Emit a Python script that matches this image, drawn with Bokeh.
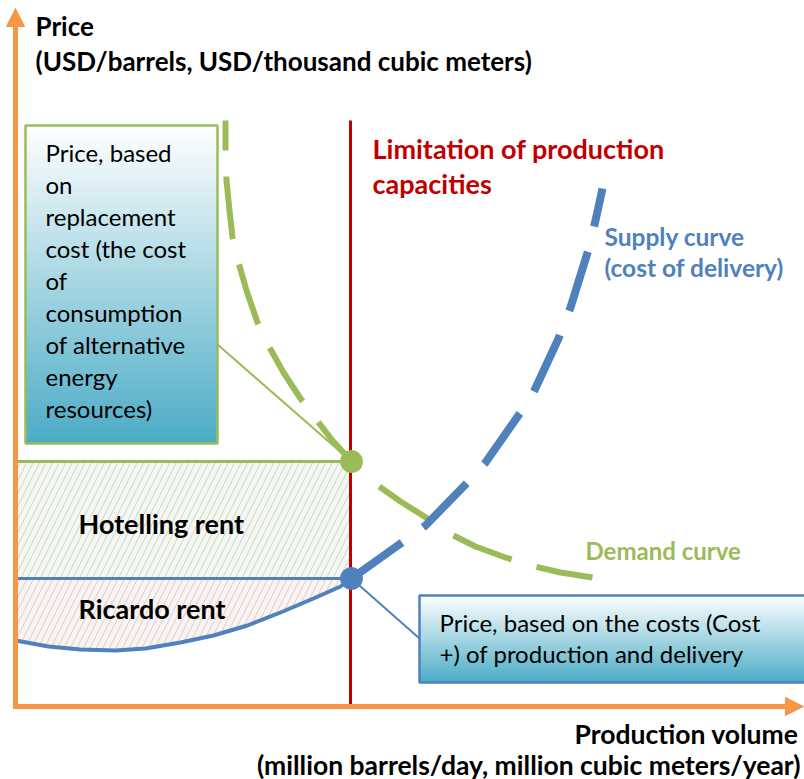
from bokeh.plotting import figure
from bokeh.models import Range1d, Arrow, NormalHead
from bokeh.core.properties import value
from bokeh.embed import file_html
from bokeh.resources import INLINE

# ---- data (volume, price in chart units) ----
supply_volume = [0, 33, 65, 100, 130, 165, 198, 232, 265, 298, 325, 336, 388, 410, 452, 470, 505, 518, 543, 555, 573, 580, 587]
supply_price = [66, 60, 57, 56, 58, 64, 71, 81, 94, 108, 120, 128, 165, 181, 224, 244, 294, 314, 368, 399, 457, 486, 518]

demand_volume = [210, 210, 211, 214, 217, 223, 231, 242, 253, 268, 285, 300, 317, 336, 358, 385, 412, 432, 460, 490, 515, 545, 577]
demand_price = [586, 556, 526, 496, 469, 444, 416, 384, 361, 334, 308, 288, 266, 245, 224, 205, 188, 174, 160, 149, 141, 134, 129]

capacity_volume = 336
capacity_top = 586
replacement_price = 245
cost_price = 128

ORANGE = "#F79646"
GREEN = "#9BBB59"
BLUE = "#4F81BD"
RED = "#C00000"
FONT = value("Lato")

p = figure(width=804, height=779, x_range=Range1d(-15, 789), y_range=Range1d(-73, 706),
           output_backend="svg", toolbar_location=None, min_border=0,
           x_axis_location=None, y_axis_location=None)
p.grid.grid_line_color = None
p.outline_line_color = None
p.background_fill_color = "white"
p.border_fill_color = "white"

# split supply
k = supply_volume.index(capacity_volume)
sv_solid, sp_solid = supply_volume[:k + 1], supply_price[:k + 1]
sv_dash, sp_dash = supply_volume[k:], supply_price[k:]

# rents
p.quad(left=[0], right=[capacity_volume], bottom=[cost_price], top=[replacement_price],
       fill_color="#F3F8F0", line_color=None, hatch_pattern="/", hatch_scale=13,
       hatch_color="#B0B0B0", hatch_weight=1, hatch_alpha=0.55)
p.varea(x=sv_solid, y1=sp_solid, y2=[cost_price] * len(sv_solid),
        fill_color="#FBF3F1", hatch_pattern="/", hatch_scale=13,
        hatch_color="#B0B0B0", hatch_weight=1, hatch_alpha=0.55)


def lerp(c1, c2, t):
    a = [int(c1[i:i + 2], 16) for i in (1, 3, 5)]
    b = [int(c2[i:i + 2], 16) for i in (1, 3, 5)]
    return "#%02x%02x%02x" % tuple(round(a[j] + (b[j] - a[j]) * t) for j in range(3))


def gradient_box(x0, x1, y_bottom, y_top, border, n=45):
    h = (y_top - y_bottom) / n
    tops, bots, cols = [], [], []
    for i in range(n):
        t = (i + 0.5) / n
        tops.append(y_top - i * h)
        bots.append(max(y_bottom, y_top - (i + 1) * h - 1.5))
        cols.append(lerp("#FFFFFF", "#4BACC6", t))
    p.quad(left=[x0] * n, right=[x1] * n, top=tops, bottom=bots, fill_color=cols, line_color=None)
    p.quad(left=[x0], right=[x1], top=[y_top], bottom=[y_bottom], fill_color=None,
           line_color=border, line_width=2.5)


# horizontal price levels
p.line([0, capacity_volume], [replacement_price] * 2, line_color=GREEN, line_width=3)
p.line([0, capacity_volume], [cost_price] * 2, line_color=BLUE, line_width=3)

# capacity limit
p.line([capacity_volume - 1] * 2, [0, capacity_top], line_color=RED, line_width=3)

# demand
p.line(demand_volume, demand_price, line_color=GREEN, line_width=6, line_dash="63 26",
       line_dash_offset=33)
# supply
p.line(sv_solid, sp_solid, line_color=BLUE, line_width=4)
p.line(sv_dash, sp_dash, line_color=BLUE, line_width=8, line_dash="62 26")

# boxes
gradient_box(10, 202, 263, 581, GREEN)
gradient_box(404, 800, 24, 111, BLUE)

# connectors
p.line([202, capacity_volume], [362, replacement_price], line_color=GREEN, line_width=2)
p.line([capacity_volume, 404], [cost_price, 68], line_color=BLUE, line_width=2)

# points
p.scatter([capacity_volume], [replacement_price], size=22, fill_color=GREEN, line_color=GREEN)
p.scatter([capacity_volume], [cost_price], size=22, fill_color=BLUE, line_color=BLUE)

# axes arrows
p.add_layout(Arrow(end=NormalHead(size=18, fill_color=ORANGE, line_color=ORANGE, line_width=1),
                   x_start=0, y_start=-2.5, x_end=0, y_end=698, line_color=ORANGE, line_width=5))
p.add_layout(Arrow(end=NormalHead(size=18, fill_color=ORANGE, line_color=ORANGE, line_width=1),
                   x_start=-2.5, y_start=0, x_end=788, y_end=0, line_color=ORANGE, line_width=5))


def txt(x, y, s, size, color="black", bold=True, align="left"):
    p.text(x=x, y=y, text=s, text_font=FONT, text_font_size=size,
           text_font_style="bold" if bold else "normal", text_color=color,
           text_baseline="middle", text_align=align)


txt([20, 20], [681, 646], ["Price", "(USD/barrels, USD/thousand cubic meters)"], "26px")
box_lines = ["Price, based", "on", "replacement", "cost (the cost", "of", "consumption",
             "of alternative", "energy", "resources)"]
txt([30] * 9, [554 - 32 * i for i in range(9)], box_lines, "24px", bold=False)
txt([357, 357], [558, 523], ["Limitation of production", "capacities"], "27px", color=RED)
txt([589, 589], [470, 439], ["Supply curve", "(cost of delivery)"], "24.5px", color=BLUE)
txt([570], [156], ["Demand curve"], "24px", color=GREEN)
txt([63], [183], ["Hotelling rent"], "27px")
txt([63], [98], ["Ricardo rent"], "27px")
txt([424, 424], [84, 53], ["Price, based on the costs (Cost", "+) of production and delivery"], "24px", bold=False)
txt([783, 785], [-27, -58], ["Production volume", "(million barrels/day, million cubic meters/year)"], "26.5px", align="right")

open("out.html", "w").write(file_html(p, INLINE))
